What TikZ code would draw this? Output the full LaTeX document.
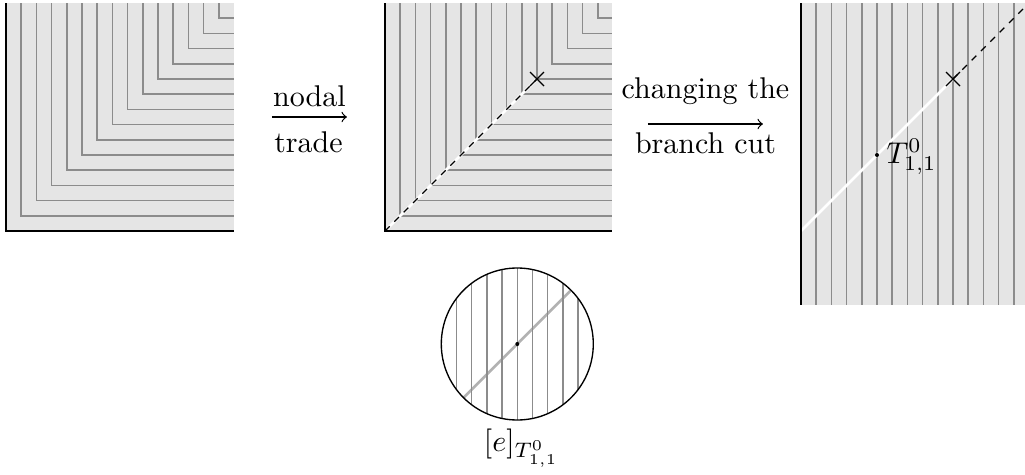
\documentclass[tikz,border=0pt]{standalone}
\begin{document}
\begin{tikzpicture}[x=0.33333pt,y=-0.33333pt,
  panelfill/.style={fill=black!10},
  gridline/.style={draw=black!45,line width=0.5pt},
  axis/.style={draw=black,line width=0.75pt},
  cutwhite/.style={draw=white,line width=0.9pt},
  cutdash/.style={draw=black,line width=0.4pt,dash pattern=on 2.2pt off 2.2pt},
  crossmark/.style={draw=black,line width=0.45pt},
  lbl/.style={inner sep=0pt,anchor=base},
  maparrow/.style={->,line width=0.4pt}]
\useasboundingbox (0,0) rectangle (1025,475);
\def\u{15.2}
% ---------- panel 1 ----------
\fill[panelfill] (6,3) rectangle (234,231);
\foreach \k in {1,...,14}
  \draw[gridline] ({6+\k*\u},3) |- (234,{231-\k*\u});
\draw[axis] (6,3) |- (234,231);
% ---------- arrow 1 ----------
\coordinate (a1s) at (272,117);
\coordinate (a1e) at (347,117);
\draw[maparrow] (a1s) -- (a1e);
\node[lbl] (nodal) at (309.5,106) {nodal};
\node[lbl] (trade) at (308.5,152) {trade};
% ---------- panel 2 ----------
\fill[panelfill] (385,3) rectangle (612,231);
\foreach \k in {1,...,14}
  \draw[gridline] ({385+\k*\u},3) |- (612,{231-\k*\u});
\coordinate (o2) at (385,231);
\coordinate (x2) at (537,79);
\draw[cutwhite] (o2) -- (x2);
\draw[cutdash] (o2) -- (x2);
\draw[crossmark] (x2) +(-7,-7) -- +(7,7) (x2) +(-7,7) -- +(7,-7);
\draw[axis] (385,3) |- (612,231);
% ---------- arrow 2 ----------
\coordinate (a2s) at (648,124);
\coordinate (a2e) at (763,124);
\draw[maparrow] (a2s) -- (a2e);
\node[lbl] (chg) at (705.5,98) {changing the};
\node[lbl] (brc) at (705.5,153) {branch cut};
% ---------- panel 3 ----------
\begin{scope}
\clip (801,3) rectangle (1025,305);
\fill[panelfill] (801,3) rectangle (1025,305);
\foreach \k in {1,...,14}
  \draw[gridline] ({801+\k*\u},3) -- ({801+\k*\u},305);
\coordinate (o3) at (801,231);
\coordinate (x3) at (953,79);
\coordinate (e3) at (1040,-8);
\draw[cutwhite] (o3) -- (x3);
\draw[cutdash] (x3) -- (e3);
\draw[crossmark] (x3) +(-7,-7) -- +(7,7) (x3) +(-7,7) -- +(7,-7);
\end{scope}
\draw[axis] (801,3) -- (801,305);
\fill (877,155) circle[radius=2];
\node[lbl,anchor=base west] (tlab) at (886,163) {$T^0_{1,1}$};
% ---------- disc ----------
\coordinate (c) at (517.3,344);
\begin{scope}
\clip (c) circle[radius=76];
\draw[draw=black!30,line width=0.9pt] (c) ++(-60,60) -- ++(120,-120);
\foreach \k in {-4,...,4}
  \draw[gridline] ([xshift={\k*\u*0.33333pt}]c) ++(0,-80) -- ++(0,160);
\end{scope}
\draw[line width=0.45pt] (c) circle[radius=76];
\fill (c) circle[radius=2];
\node[lbl] (elab) at (521.5,451) {$[e]_{T^0_{1,1}}$};
\end{tikzpicture}
\end{document}
